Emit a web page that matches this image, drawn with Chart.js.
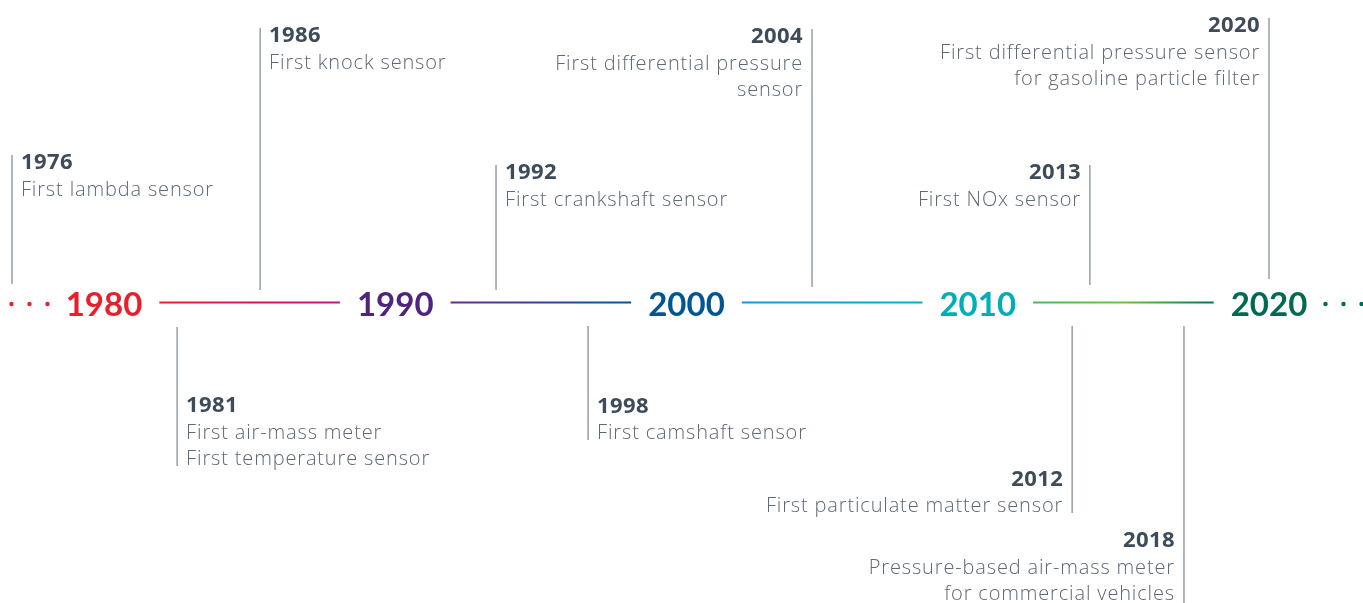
<!DOCTYPE html>
<html>
<head>
<meta charset="utf-8">
<script src="https://cdn.jsdelivr.net/npm/chart.js@4/dist/chart.umd.min.js"></script>
<style>
  html, body { margin: 0; padding: 0; background: #fff; overflow: hidden; }
  #wrap { width: 1363px; height: 603px; position: relative; }
</style>
</head>
<body>
<div id="wrap"><canvas id="timelineChart"></canvas></div>
<script>
// data
const decades = [1980, 1990, 2000, 2010, 2020];
const eventYears = [1976, 1981, 1986, 1992, 1998, 2004, 2012, 2013, 2018, 2020];
const eventSides = ["top", "bottom", "top", "top", "bottom", "top", "bottom", "top", "bottom", "top"];
const eventTexts = [
  ["First lambda sensor"],
  ["First air-mass meter", "First temperature sensor"],
  ["First knock sensor"],
  ["First crankshaft sensor"],
  ["First camshaft sensor"],
  ["First differential pressure", "sensor"],
  ["First particulate matter sensor"],
  ["First NOx sensor"],
  ["Pressure-based air-mass meter", "for commercial vehicles"],
  ["First differential pressure sensor", "for gasoline particle filter"],
];

// styles / layout
const decadeColors = ["#e8202c", "#50237f", "#005691", "#00aeb8", "#006a52"];
const segmentStops = [
  ["#e8202c", "#c4128a"],
  ["#6a2a8c", "#00579a"],
  ["#1a96d8", "#00b0c0"],
  ["#44b86a", "#78be3c", "#007a58"],
];
const labelGap = 1.9; // years kept clear around each decade label
const lineY = 302.5;
const dotGap = 1.94;
const dotStep = 0.618; // years between the "..." dots
// horizontal nudge (years) and vertical extent (px) of each event marker
const eventShift = [0.84, 1.51, -0.64, 1.46, -1.38, 0.31, 1.24, 0.85, -0.92, 0];
const eventSpan = [
  [155, 284], [327, 466], [28, 290], [165, 290], [326, 440],
  [29, 287], [326, 513], [165, 285], [326, 603], [18, 279],
];
const textLeftOf = [false, false, false, false, false, true, true, true, true, true];

const yearFont = "bold 22px 'Open Sans'";
const descFont = "300 20px 'Open Sans'";
const lineHeight = 26.5;

const datasets = [];

// decade connector segments
for (let i = 0; i < decades.length - 1; i++) {
  const x0 = decades[i] + labelGap;
  const x1 = decades[i + 1] - labelGap;
  const stops = segmentStops[i];
  datasets.push({
    data: [{ x: x0, y: lineY }, { x: x1, y: lineY }],
    showLine: true,
    pointRadius: 0,
    borderWidth: 2,
    borderColor: function (ctx) {
      const chart = ctx.chart;
      if (!chart.chartArea) return stops[0];
      const xs = chart.scales.x;
      const g = chart.ctx.createLinearGradient(xs.getPixelForValue(x0), 0, xs.getPixelForValue(x1), 0);
      stops.forEach((c, k) => g.addColorStop(k / (stops.length - 1), c));
      return g;
    },
  });
}

// leading / trailing dots
const first = decades[0];
const last = decades[decades.length - 1];
datasets.push({
  data: [0, 1, 2].map((k) => ({ x: first - dotGap - k * dotStep, y: lineY + 1.5 })),
  pointRadius: 2.2,
  pointBackgroundColor: decadeColors[0],
  pointBorderWidth: 0,
  showLine: false,
  clip: false,
});
datasets.push({
  data: [0, 1, 2].map((k) => ({ x: last + dotGap + k * dotStep, y: lineY + 1.5 })),
  pointRadius: 2.2,
  pointBackgroundColor: decadeColors[4],
  pointBorderWidth: 0,
  showLine: false,
  clip: false,
});

// event markers
eventYears.forEach((yr, i) => {
  const x = yr + eventShift[i];
  datasets.push({
    data: [{ x: x, y: eventSpan[i][0] }, { x: x, y: eventSpan[i][1] }],
    showLine: true,
    pointRadius: 0,
    borderWidth: 1.2,
    borderColor: "#7b8691",
    clip: false,
  });
});

const labelPlugin = {
  id: "timelineLabels",
  afterDatasetsDraw(chart) {
    const ctx = chart.ctx;
    const xs = chart.scales.x;
    const ys = chart.scales.y;
    ctx.save();

    // decade labels
    ctx.font = "bold 33px Lato";
    ctx.textAlign = "center";
    ctx.textBaseline = "alphabetic";
    decades.forEach((d, i) => {
      ctx.fillStyle = decadeColors[i];
      ctx.fillText(String(d), xs.getPixelForValue(d), ys.getPixelForValue(lineY) + 13);
    });

    // event texts
    eventYears.forEach((yr, i) => {
      const px = xs.getPixelForValue(yr + eventShift[i]);
      const left = textLeftOf[i];
      const tx = left ? px - 9 : px + 9;
      ctx.textAlign = left ? "right" : "left";
      const lines = eventTexts[i];
      let base;
      if (eventSides[i] === "top") {
        base = ys.getPixelForValue(eventSpan[i][0]) + 14;
      } else {
        base = ys.getPixelForValue(eventSpan[i][1]) - 1 - lineHeight * lines.length;
        if (eventSpan[i][1] >= 603) base -= 2;
      }
      ctx.font = yearFont;
      ctx.letterSpacing = "0.4px";
      ctx.fillStyle = "#3e4c5a";
      ctx.fillText(String(yr), tx, base);
      ctx.font = descFont;
      ctx.letterSpacing = "0.85px";
      ctx.fillStyle = "#5d6975";
      lines.forEach((t, k) => ctx.fillText(t, tx, base + lineHeight * (k + 1)));
    });
    ctx.restore();
  },
};

new Chart(document.getElementById("timelineChart"), {
  type: "scatter",
  data: { datasets: datasets },
  options: {
    responsive: true,
    maintainAspectRatio: false,
    animation: false,
    layout: { padding: 0, autoPadding: false },
    plugins: { legend: { display: false }, tooltip: { enabled: false } },
    scales: {
      x: { type: "linear", display: false, min: 1976.429, max: 2023.227 },
      y: { type: "linear", display: false, min: 0, max: 603, reverse: true },
    },
  },
  plugins: [labelPlugin],
});
</script>
</body>
</html>
